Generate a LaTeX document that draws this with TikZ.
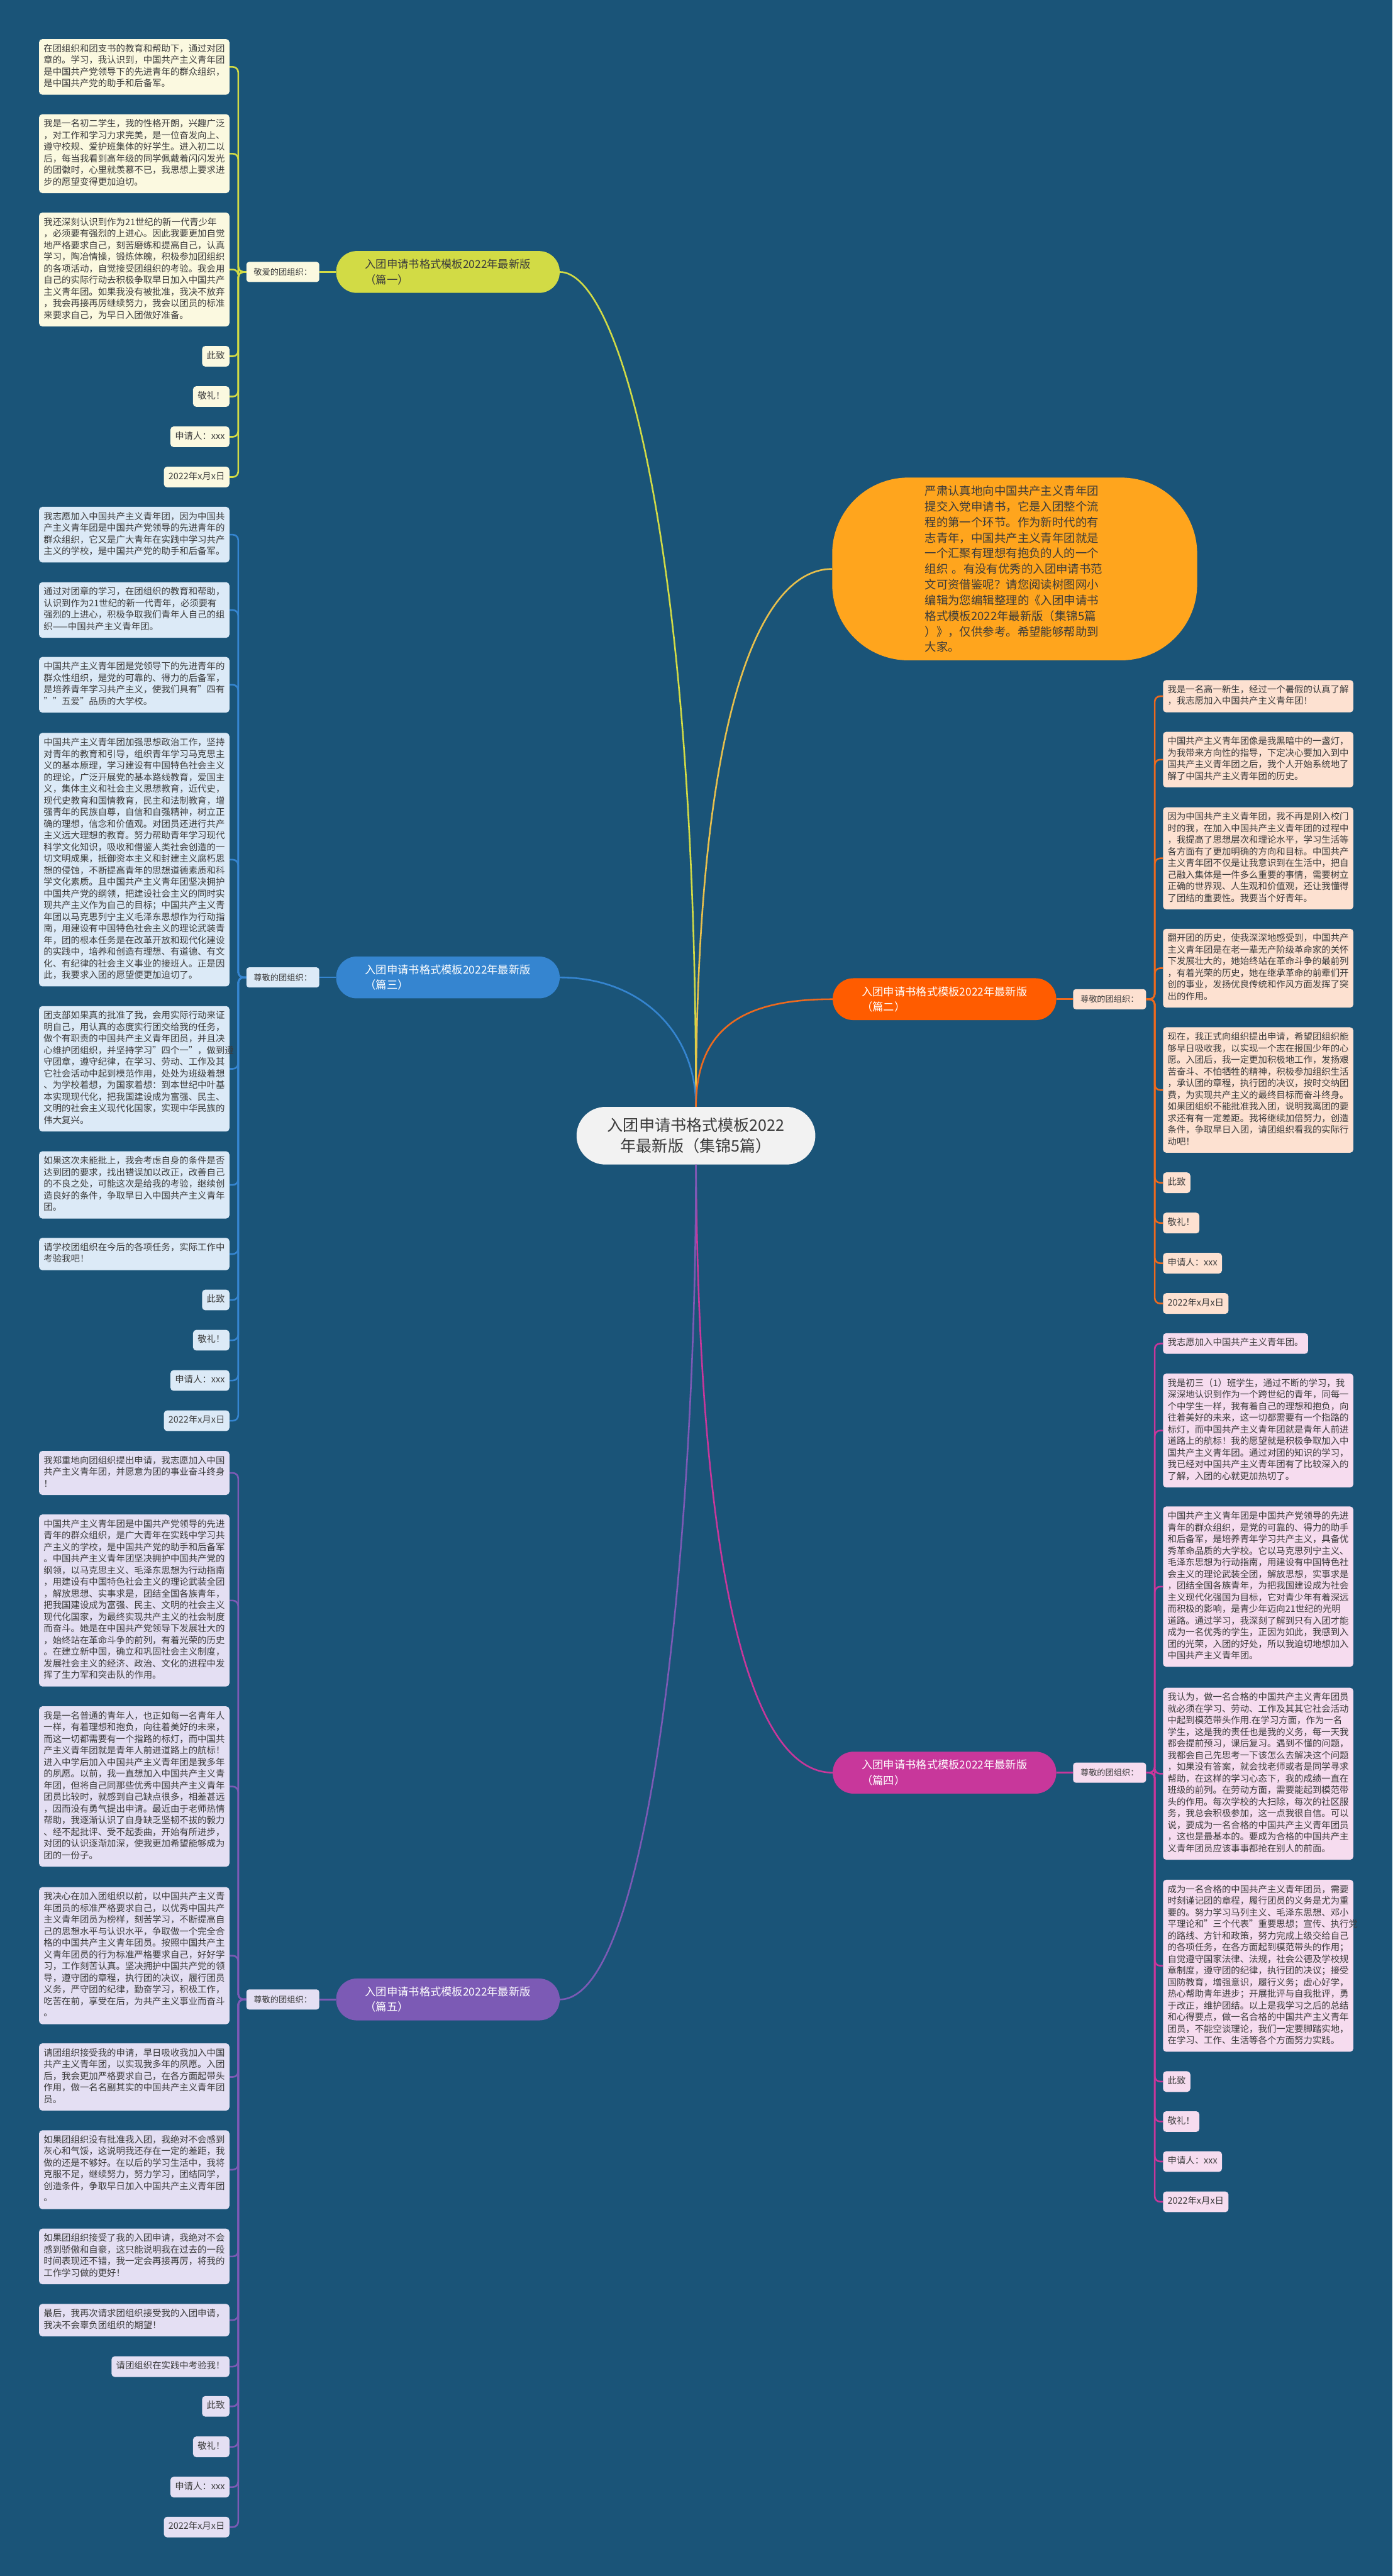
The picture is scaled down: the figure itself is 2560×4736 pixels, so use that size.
\documentclass[tikz,border=0pt]{standalone}
\usepackage{fontspec}
\setmainfont{Noto Sans CJK SC}
\definecolor{bg}{HTML}{1A5478}
\definecolor{p1}{HTML}{D2DB45}
\definecolor{p1f}{HTML}{FBF9E0}
\definecolor{p2}{HTML}{FF5C00}
\definecolor{p2l}{HTML}{EE6A1E}
\definecolor{p2f}{HTML}{FDE1D1}
\definecolor{p3}{HTML}{3585D0}
\definecolor{p3f}{HTML}{DCEAF7}
\definecolor{p4}{HTML}{C8379B}
\definecolor{p4f}{HTML}{F6DCEF}
\definecolor{p5}{HTML}{7C5AB5}
\definecolor{p5f}{HTML}{E4DFF3}
\definecolor{sumc}{HTML}{FFA51D}
\definecolor{suml}{HTML}{E8C04C}
\definecolor{cen}{HTML}{F2F2F2}
\definecolor{txt}{HTML}{3B3B3B}
\newcommand\lfnt{\fontsize{16.65}{21.4}\selectfont}
\newcommand\labfnt{\fontsize{15.3}{18}\selectfont}
\newcommand\brfnt{\fontsize{20}{28}\selectfont}
\newcommand\cenfnt{\fontsize{29}{38}\selectfont}
\newcommand\sumfnt{\fontsize{21.3}{28.7}\selectfont}
\tikzset{
  leafbase/.style={rounded corners=6pt, inner xsep=8.5pt, inner ysep=8.3pt, font=\lfnt, text=txt,
    execute at begin node=\strut, execute at end node=\strut},
  wide/.style={leafbase, text width=333pt, align=left},
  short/.style={leafbase},
  lab/.style={rounded corners=5pt, font=\labfnt, text=txt, minimum width=134pt, minimum height=37pt, inner sep=0pt},
  branch/.style={rounded corners=38pt, minimum width=411pt, minimum height=77pt, inner sep=0pt, font=\brfnt, align=left},
  con1/.style={draw=p1, line width=3pt, rounded corners=10pt},
  con2/.style={draw=p2l, line width=3pt, rounded corners=10pt},
  con3/.style={draw=p3, line width=3pt, rounded corners=10pt},
  con4/.style={draw=p4, line width=3pt, rounded corners=10pt},
  con5/.style={draw=p5, line width=3pt, rounded corners=10pt},
  consum/.style={draw=suml, line width=3pt}
}
\begin{document}
\begin{tikzpicture}[x=1pt,y=-1pt]
\fill[bg] (0,0) rectangle (2560,4736);
\useasboundingbox (0,0) rectangle (2560,4736);

% ---------- center and summary ----------
\node[fill=cen, rounded corners=53pt, minimum width=439pt, minimum height=106pt, inner sep=0pt, font=\cenfnt, text=txt, align=center] (ctr) at (1279.5,2088) {入团申请书格式模板2022\\年最新版（集锦5篇）};
\node[fill=sumc, rounded corners=140pt, minimum width=671pt, minimum height=336pt, inner sep=0pt, font=\sumfnt, text=txt, text width=330pt, align=left] (sum) at (1865.5,1046) {严肃认真地向中国共产主义青年团\\提交入党申请书，它是入团整个流\\程的第一个环节。作为新时代的有\\志青年，中国共产主义青年团就是\\一个汇聚有理想有抱负的人的一个\\组织 。有没有优秀的入团申请书范\\文可资借鉴呢？请您阅读树图网小\\编辑为您编辑整理的《入团申请书\\格式模板2022年最新版（集锦5篇\\）》，仅供参考。希望能够帮助到\\大家。};

% ---------- branches ----------
\node[branch, fill=p1, text=txt] (br1) at (823.5,500) {入团申请书格式模板2022年最新版\\（篇一）};
\node[branch, fill=p2, text=white] (br2) at (1736.5,1837) {入团申请书格式模板2022年最新版\\（篇二）};
\node[branch, fill=p3, text=white] (br3) at (823.5,1797) {入团申请书格式模板2022年最新版\\（篇三）};
\node[branch, fill=p4, text=white] (br4) at (1736.5,3259) {入团申请书格式模板2022年最新版\\（篇四）};
\node[branch, fill=p5, text=white] (br5) at (823.5,3676) {入团申请书格式模板2022年最新版\\（篇五）};

% ---------- labels ----------
\node[lab, fill=p1f] (lb1) at (520,500) {敬爱的团组织：};
\node[lab, fill=p2f] (lb2) at (2040,1837) {尊敬的团组织：};
\node[lab, fill=p3f] (lb3) at (520,1797) {尊敬的团组织：};
\node[lab, fill=p4f] (lb4) at (2040,3259) {尊敬的团组织：};
\node[lab, fill=p5f] (lb5) at (520,3676) {尊敬的团组织：};

\coordinate (sp1) at (438,500);
\coordinate (sp2) at (2123,1837);
\coordinate (sp3) at (438,1797);
\coordinate (sp4) at (2123,3259);
\coordinate (sp5) at (438,3676);

% ---------- part 1 leaves ----------
\node[wide, fill=p1f, anchor=east] (k1) at (422,123) {在团组织和团支书的教育和帮助下，通过对团\\章的。学习，我认识到，中国共产主义青年团\\是中国共产党领导下的先进青年的群众组织，\\是中国共产党的助手和后备军。};
\node[wide, fill=p1f, anchor=east] (k2) at (422,282.5) {我是一名初二学生，我的性格开朗，兴趣广泛\\，对工作和学习力求完美，是一位奋发向上、\\遵守校规、爱护班集体的好学生。进入初二以\\后，每当我看到高年级的同学佩戴着闪闪发光\\的团徽时，心里就羡慕不已，我思想上要求进\\步的愿望变得更加迫切。};
\node[wide, fill=p1f, anchor=east] (k3) at (422,495.5) {我还深刻认识到作为21世纪的新一代青少年\\，必须要有强烈的上进心。因此我要更加自觉\\地严格要求自己，刻苦磨练和提高自己，认真\\学习，陶冶情操，锻炼体魄，积极参加团组织\\的各项活动，自觉接受团组织的考验。我会用\\自己的实际行动去积极争取早日加入中国共产\\主义青年团。如果我没有被批准，我决不放弃\\，我会再接再厉继续努力，我会以团员的标准\\来要求自己，为早日入团做好准备。};
\node[short, fill=p1f, anchor=east] (k4) at (422,655) {此致};
\node[short, fill=p1f, anchor=east] (k5) at (422,729) {敬礼！};
\node[short, fill=p1f, anchor=east] (k6) at (422,803) {申请人：xxx};
\node[short, fill=p1f, anchor=east] (k7) at (422,877) {2022年x月x日};

% ---------- part 2 leaves ----------
\node[wide, fill=p2f, anchor=west] (m1) at (2138,1280) {我是一名高一新生，经过一个暑假的认真了解\\，我志愿加入中国共产主义青年团！};
\node[wide, fill=p2f, anchor=west] (m2) at (2138,1396.5) {中国共产主义青年团像是我黑暗中的一盏灯，\\为我带来方向性的指导，下定决心要加入到中\\国共产主义青年团之后，我个人开始系统地了\\解了中国共产主义青年团的历史。};
\node[wide, fill=p2f, anchor=west] (m3) at (2138,1578) {因为中国共产主义青年团，我不再是刚入校门\\时的我，在加入中国共产主义青年团的过程中\\，我提高了思想层次和理论水平，学习生活等\\各方面有了更加明确的方向和目标。中国共产\\主义青年团不仅是让我意识到在生活中，把自\\己融入集体是一件多么重要的事情，需要树立\\正确的世界观、人生观和价值观，还让我懂得\\了团结的重要性。我要当个好青年。};
\node[wide, fill=p2f, anchor=west] (m4) at (2138,1780) {翻开团的历史，使我深深地感受到，中国共产\\主义青年团是在老一辈无产阶级革命家的关怀\\下发展壮大的，她始终站在革命斗争的最前列\\，有着光荣的历史，她在继承革命的前辈们开\\创的事业，发扬优良传统和作风方面发挥了突\\出的作用。};
\node[wide, fill=p2f, anchor=west] (m5) at (2138,2004) {现在，我正式向组织提出申请，希望团组织能\\够早日吸收我，以实现一个志在报国少年的心\\愿。入团后，我一定更加积极地工作，发扬艰\\苦奋斗、不怕牺牲的精神，积极参加组织生活\\，承认团的章程，执行团的决议，按时交纳团\\费，为实现共产主义的最终目标而奋斗终身。\\如果团组织不能批准我入团，说明我离团的要\\求还有有一定差距。我将继续加倍努力，创造\\条件，争取早日入团，请团组织看我的实际行\\动吧！};
\node[short, fill=p2f, anchor=west] (m6) at (2138,2174.5) {此致};
\node[short, fill=p2f, anchor=west] (m7) at (2138,2248.5) {敬礼！};
\node[short, fill=p2f, anchor=west] (m8) at (2138,2322.5) {申请人：xxx};
\node[short, fill=p2f, anchor=west] (m9) at (2138,2396.5) {2022年x月x日};

% ---------- part 3 leaves ----------
\node[wide, fill=p3f, anchor=east] (n1) at (422,983) {我志愿加入中国共产主义青年团，因为中国共\\产主义青年团是中国共产党领导的先进青年的\\群众组织，它又是广大青年在实践中学习共产\\主义的学校，是中国共产党的助手和后备军。};
\node[wide, fill=p3f, anchor=east] (n2) at (422,1121.5) {通过对团章的学习，在团组织的教育和帮助，\\认识到作为21世纪的新一代青年，必须要有\\强烈的上进心，积极争取我们青年人自己的组\\织——中国共产主义青年团。};
\node[wide, fill=p3f, anchor=east] (n3) at (422,1259) {中国共产主义青年团是党领导下的先进青年的\\群众性组织，是党的可靠的、得力的后备军，\\是培养青年学习共产主义，使我们具有"四有\\""五爱"品质的大学校。};
\node[wide, fill=p3f, anchor=east] (n4) at (422,1580.5) {中国共产主义青年团加强思想政治工作，坚持\\对青年的教育和引导，组织青年学习马克思主\\义的基本原理，学习建设有中国特色社会主义\\的理论，广泛开展党的基本路线教育，爱国主\\义，集体主义和社会主义思想教育，近代史，\\现代史教育和国情教育，民主和法制教育，增\\强青年的民族自尊，自信和自强精神，树立正\\确的理想，信念和价值观。对团员还进行共产\\主义远大理想的教育。努力帮助青年学习现代\\科学文化知识，吸收和借鉴人类社会创造的一\\切文明成果，抵御资本主义和封建主义腐朽思\\想的侵蚀，不断提高青年的思想道德素质和科\\学文化素质。且中国共产主义青年团坚决拥护\\中国共产党的纲领，把建设社会主义的同时实\\现共产主义作为自己的目标；中国共产主义青\\年团以马克思列宁主义毛泽东思想作为行动指\\南，用建设有中国特色社会主义的理论武装青\\年，团的根本任务是在改革开放和现代化建设\\的实践中，培养和创造有理想、有道德、有文\\化、有纪律的社会主义事业的接班人。正是因\\此，我要求入团的愿望便更加迫切了。};
\node[wide, fill=p3f, anchor=east] (n5) at (422,1965) {团支部如果真的批准了我，会用实际行动来证\\明自己，用认真的态度实行团交给我的任务，\\做个有职责的中国共产主义青年团员，并且决\\心维护团组织，并坚持学习"四个一"，做到遵\\守团章，遵守纪律，在学习、劳动、工作及其\\它社会活动中起到模范作用，处处为班级着想\\、为学校着想，为国家着想：到本世纪中叶基\\本实现现代化，把我国建设成为富强、民主、\\文明的社会主义现代化国家，实现中华民族的\\伟大复兴。};
\node[wide, fill=p3f, anchor=east] (n6) at (422,2178.5) {如果这次未能批上，我会考虑自身的条件是否\\达到团的要求，找出错误加以改正，改善自己\\的不良之处，可能这次是给我的考验，继续创\\造良好的条件，争取早日入中国共产主义青年\\团。};
\node[wide, fill=p3f, anchor=east] (n7) at (422,2305.5) {请学校团组织在今后的各项任务，实际工作中\\考验我吧！};
\node[short, fill=p3f, anchor=east] (n8) at (422,2390) {此致};
\node[short, fill=p3f, anchor=east] (n9) at (422,2464) {敬礼！};
\node[short, fill=p3f, anchor=east] (n10) at (422,2538) {申请人：xxx};
\node[short, fill=p3f, anchor=east] (n11) at (422,2612) {2022年x月x日};

% ---------- part 4 leaves ----------
\node[short, fill=p4f, anchor=west] (q1) at (2138,2470) {我志愿加入中国共产主义青年团。};
\node[wide, fill=p4f, anchor=west] (q2) at (2138,2630) {我是初三（1）班学生，通过不断的学习，我\\深深地认识到作为一个跨世纪的青年，同每一\\个中学生一样，我有着自己的理想和抱负，向\\往着美好的未来，这一切都需要有一个指路的\\标灯，而中国共产主义青年团就是青年人前进\\道路上的航标！我的愿望就是积极争取加入中\\国共产主义青年团。通过对团的知识的学习，\\我已经对中国共产主义青年团有了比较深入的\\了解，入团的心就更加热切了。};
\node[wide, fill=p4f, anchor=west] (q3) at (2138,2917) {中国共产主义青年团是中国共产党领导的先进\\青年的群众组织，是党的可靠的、得力的助手\\和后备军，是培养青年学习共产主义，具备优\\秀革命品质的大学校。它以马克思列宁主义、\\毛泽东思想为行动指南，用建设有中国特色社\\会主义的理论武装全团，解放思想，实事求是\\，团结全国各族青年，为把我国建设成为社会\\主义现代化强国为目标，它对青少年有着深远\\而积极的影响，是青少年迈向21世纪的光明\\道路。通过学习，我深刻了解到只有入团才能\\成为一名优秀的学生，正因为如此，我感到入\\团的光荣，入团的好处，所以我迫切地想加入\\中国共产主义青年团。};
\node[wide, fill=p4f, anchor=west] (q4) at (2138,3261) {我认为，做一名合格的中国共产主义青年团员\\就必须在学习、劳动、工作及其其它社会活动\\中起到模范带头作用.在学习方面，作为一名\\学生，这是我的责任也是我的义务，每一天我\\都会提前预习，课后复习。遇到不懂的问题，\\我都会自己先思考一下该怎么去解决这个问题\\，如果没有答案，就会找老师或者是同学寻求\\帮助，在这样的学习心态下，我的成绩一直在\\班级的前列。在劳动方面，需要能起到模范带\\头的作用。每次学校的大扫除，每次的社区服\\务，我总会积极参加，这一点我很自信。可以\\说，要成为一名合格的中国共产主义青年团员\\，这也是最基本的。要成为合格的中国共产主\\义青年团员应该事事都抢在别人的前面。};
\node[wide, fill=p4f, anchor=west] (q5) at (2138,3614) {成为一名合格的中国共产主义青年团员，需要\\时刻谨记团的章程，履行团员的义务是尤为重\\要的。努力学习马列主义、毛泽东思想、邓小\\平理论和"三个代表"重要思想；宣传、执行党\\的路线、方针和政策，努力完成上级交给自己\\的各项任务，在各方面起到模范带头的作用；\\自觉遵守国家法律、法规，社会公德及学校规\\章制度，遵守团的纪律，执行团的决议；接受\\国防教育，增强意识，履行义务；虚心好学，\\热心帮助青年进步；开展批评与自我批评，勇\\于改正，维护团结。以上是我学习之后的总结\\和心得要点，做一名合格的中国共产主义青年\\团员，不能空谈理论，我们一定要脚踏实地，\\在学习、工作、生活等各个方面努力实践。};
\node[short, fill=p4f, anchor=west] (q6) at (2138,3827) {此致};
\node[short, fill=p4f, anchor=west] (q7) at (2138,3900.5) {敬礼！};
\node[short, fill=p4f, anchor=west] (q8) at (2138,3974) {申请人：xxx};
\node[short, fill=p4f, anchor=west] (q9) at (2138,4048) {2022年x月x日};

% ---------- part 5 leaves ----------
\node[wide, fill=p5f, anchor=east] (v1) at (422,2708) {我郑重地向团组织提出申请，我志愿加入中国\\共产主义青年团，并愿意为团的事业奋斗终身\\！};
\node[wide, fill=p5f, anchor=east] (v2) at (422,2942.5) {中国共产主义青年团是中国共产党领导的先进\\青年的群众组织，是广大青年在实践中学习共\\产主义的学校，是中国共产党的助手和后备军\\。中国共产主义青年团坚决拥护中国共产党的\\纲领，以马克思主义、毛泽东思想为行动指南\\，用建设有中国特色社会主义的理论武装全团\\，解放思想、实事求是，团结全国各族青年，\\把我国建设成为富强、民主、文明的社会主义\\现代化国家，为最终实现共产主义的社会制度\\而奋斗。她是在中国共产党领导下发展壮大的\\，始终站在革命斗争的前列，有着光荣的历史\\。在建立新中国，确立和巩固社会主义制度，\\发展社会主义的经济、政治、文化的进程中发\\挥了生力军和突击队的作用。};
\node[wide, fill=p5f, anchor=east] (v3) at (422,3284.5) {我是一名普通的青年人，也正如每一名青年人\\一样，有着理想和抱负，向往着美好的未来，\\而这一切都需要有一个指路的标灯，而中国共\\产主义青年团就是青年人前进道路上的航标！\\进入中学后加入中国共产主义青年团是我多年\\的夙愿。以前，我一直想加入中国共产主义青\\年团，但将自己同那些优秀中国共产主义青年\\团员比较时，就感到自己缺点很多，相差甚远\\，因而没有勇气提出申请。最近由于老师热情\\帮助，我逐渐认识了自身缺乏坚韧不拔的毅力\\、经不起批评、受不起委曲，开始有所进步，\\对团的认识逐渐加深，使我更加希望能够成为\\团的一份子。};
\node[wide, fill=p5f, anchor=east] (v4) at (422,3595.5) {我决心在加入团组织以前，以中国共产主义青\\年团员的标准严格要求自己，以优秀中国共产\\主义青年团员为榜样，刻苦学习，不断提高自\\己的思想水平与认识水平，争取做一个完全合\\格的中国共产主义青年团员。按照中国共产主\\义青年团员的行为标准严格要求自己，好好学\\习，工作刻苦认真。坚决拥护中国共产党的领\\导，遵守团的章程，执行团的决议，履行团员\\义务，严守团的纪律，勤奋学习，积极工作，\\吃苦在前，享受在后，为共产主义事业而奋斗\\。};
\node[wide, fill=p5f, anchor=east] (v5) at (422,3818.5) {请团组织接受我的申请，早日吸收我加入中国\\共产主义青年团，以实现我多年的夙愿。入团\\后，我会更加严格要求自己，在各方面起带头\\作用，做一名名副其实的中国共产主义青年团\\员。};
\node[wide, fill=p5f, anchor=east] (v6) at (422,3989) {如果团组织没有批准我入团，我绝对不会感到\\灰心和气馁，这说明我还存在一定的差距，我\\做的还是不够好。在以后的学习生活中，我将\\克服不足，继续努力，努力学习，团结同学，\\创造条件，争取早日加入中国共产主义青年团\\。};
\node[wide, fill=p5f, anchor=east] (v7) at (422,4148.5) {如果团组织接受了我的入团申请，我绝对不会\\感到骄傲和自豪，这只能说明我在过去的一段\\时间表现还不错，我一定会再接再厉，将我的\\工作学习做的更好！};
\node[wide, fill=p5f, anchor=east] (v8) at (422,4265.5) {最后，我再次请求团组织接受我的入团申请，\\我决不会辜负团组织的期望！};
\node[short, fill=p5f, anchor=east] (v9) at (422,4351) {请团组织在实践中考验我！};
\node[short, fill=p5f, anchor=east] (v10) at (422,4424) {此致};
\node[short, fill=p5f, anchor=east] (v11) at (422,4498.5) {敬礼！};
\node[short, fill=p5f, anchor=east] (v12) at (422,4572.5) {申请人：xxx};
\node[short, fill=p5f, anchor=east] (v13) at (422,4646) {2022年x月x日};

% ---------- connectors from center ----------
\draw[con1] (ctr.north) .. controls (1280,1000) and (1140,500) .. (br1.east);
\draw[consum] (ctr.north) .. controls (1280,1300) and (1400,1046) .. (sum.west);
\draw[con3] (ctr.north) .. controls (1280,1900) and (1180,1797) .. (br3.east);
\draw[con2] (ctr.north) .. controls (1280,1880) and (1380,1837) .. (br2.west);
\draw[con4] (ctr.south) .. controls (1285,2900) and (1380,3259) .. (br4.west);
\draw[con5] (ctr.south) .. controls (1280,2800) and (1200,3676) .. (br5.east);

% ---------- branch to label ----------
\draw[con1] (br1.west) -- (lb1.east);
\draw[con2] (br2.east) -- (lb2.west);
\draw[con3] (br3.west) -- (lb3.east);
\draw[con4] (br4.east) -- (lb4.west);
\draw[con5] (br5.west) -- (lb5.east);

% ---------- label to leaves ----------
\foreach \i in {1,...,7} \draw[con1] (lb1.west) -- (sp1) |- (k\i.east);
\foreach \i in {1,...,9} \draw[con2] (lb2.east) -- (sp2) |- (m\i.west);
\foreach \i in {1,...,11} \draw[con3] (lb3.west) -- (sp3) |- (n\i.east);
\foreach \i in {1,...,9} \draw[con4] (lb4.east) -- (sp4) |- (q\i.west);
\foreach \i in {1,...,13} \draw[con5] (lb5.west) -- (sp5) |- (v\i.east);
\end{tikzpicture}
\end{document}
